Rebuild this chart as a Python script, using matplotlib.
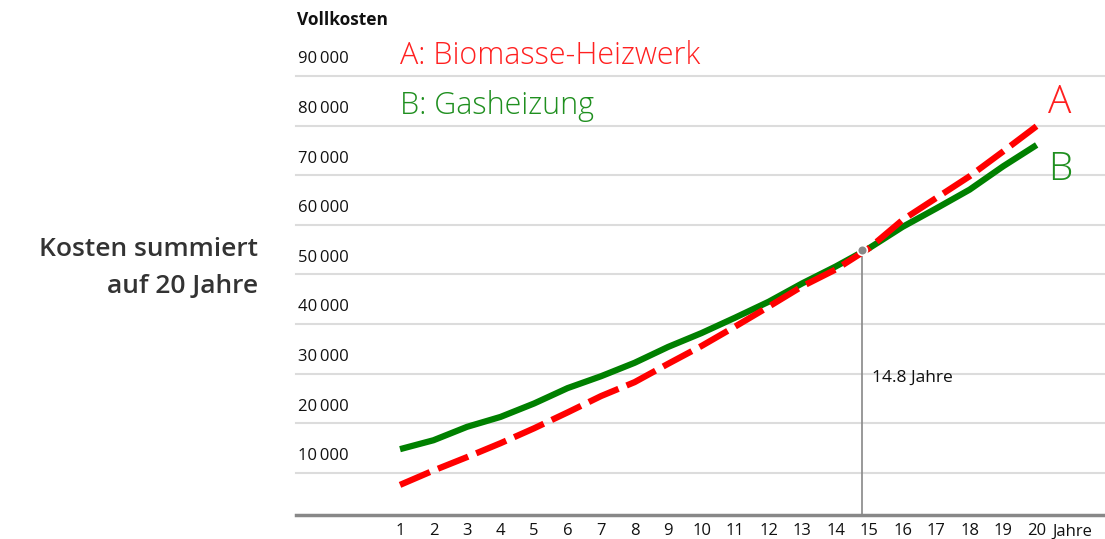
import matplotlib
matplotlib.use('Agg')
import matplotlib.pyplot as plt

plt.rcParams['font.family'] = ['Open Sans', 'DejaVu Sans']

# Daten
jahre = list(range(1, 21))
biomasse = [7600, 10500, 13200, 16000, 19000, 22200, 25500, 28300, 32000, 35600,
            39500, 43500, 47600, 51000, 55300, 61000, 65400, 69800, 74800, 79900]
gas = [14800, 16600, 19300, 21300, 24000, 27100, 29500, 32200, 35400, 38200,
       41300, 44500, 48200, 51600, 55300, 59600, 63300, 67100, 71800, 76100]
y_ticks = [10000, 20000, 30000, 40000, 50000, 60000, 70000, 80000, 90000]
schnitt_x = 14.8
schnitt_y = 55000

rot = '#ff0000'
gruen = '#008000'

fig = plt.figure(figsize=(11.05, 5.39), dpi=100)
ax = fig.add_axes([0.268, 0.0445, 0.732, 0.8145])
ax.set_xlim(-2.1, 22.04)
ax.set_ylim(1530, 90000)

# Gitterlinien
for v in y_ticks:
    ax.axhline(v, color='#dcdcdc', lw=1.5, zorder=0, clip_on=False)
    ax.annotate(f'{v // 1000}\u2009000', xy=(0, v), xycoords=('axes fraction', 'data'),
                xytext=(1, 12), textcoords='offset points', ha='left', va='center',
                fontsize=12, color='#111111')

for s in ['top', 'right', 'left']:
    ax.spines[s].set_visible(False)
ax.spines['bottom'].set_color('#888888')
ax.spines['bottom'].set_linewidth(2.5)
ax.set_yticks([])
ax.set_xticks(jahre)
ax.set_xticklabels([str(j) for j in jahre], fontsize=12, color='#111111')
ax.tick_params(axis='x', length=0, pad=6)
ax.annotate('Jahre', xy=(20, 0), xycoords=('data', 'axes fraction'),
            xytext=(11, -6), textcoords='offset points', ha='left', va='top',
            fontsize=12, color='#111111')

# Linien
ax.plot(jahre, gas, color=gruen, lw=4.5, solid_capstyle='butt',
        solid_joinstyle='round', zorder=3)
ax.plot(jahre, biomasse, color=rot, lw=4.5, linestyle=(0, (5.2, 1.4)),
        dash_joinstyle='round', zorder=4)

# Schnittpunkt
ax.plot([schnitt_x, schnitt_x], [1530, schnitt_y], color='#888888', lw=1.2, zorder=2)
ax.plot([schnitt_x], [schnitt_y], 'o', color='#888888', markersize=7,
        markeredgecolor='white', markeredgewidth=1.2, zorder=5)
ax.text(schnitt_x + 0.3, 29200, f'{schnitt_x} Jahre', fontsize=12.5, color='#111111',
        ha='left', va='center')

# Beschriftungen
ax.text(1, 94000, 'A: Biomasse-Heizwerk', color='#ff2020', fontsize=22,
        fontweight='light', ha='left', va='center')
ax.text(1, 84000, 'B: Gasheizung', color='#1f8f1f', fontsize=22,
        fontweight='light', ha='left', va='center')
ax.text(20.35, 84600, 'A', color='#ff2020', fontsize=28, fontweight='light',
        ha='left', va='center')
ax.text(20.35, 71100, 'B', color='#1f8f1f', fontsize=28, fontweight='light',
        ha='left', va='center')

fig.text(297 / 1105, 1 - 20 / 539, 'Vollkosten', fontsize=12.5, fontweight='bold',
         ha='left', va='center', color='#111111')
fig.text(258 / 1105, 1 - 268 / 539, 'Kosten summiert\nauf 20 Jahre', fontsize=19,
         fontweight='semibold', ha='right', va='center', color='#333333',
         linespacing=1.6)

fig.savefig('out.png', dpi=100)
